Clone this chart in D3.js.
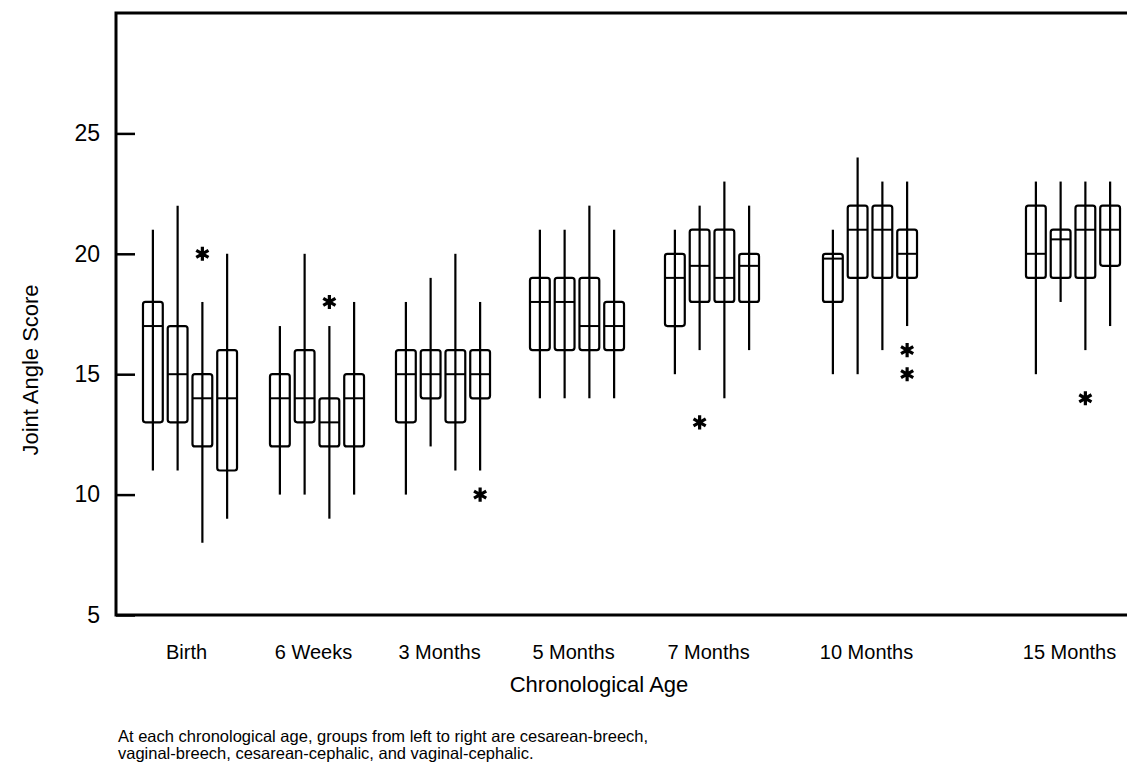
<!DOCTYPE html>
<html>
<head>
<meta charset="utf-8">
<script src="https://cdn.jsdelivr.net/npm/d3@7"></script>
<style>
  body { margin: 0; background: #fff; }
  svg { display: block; font-family: "Liberation Sans", Arial, sans-serif; }
</style>
</head>
<body>
<div id="chart"></div>
<script>
// Chronological ages (x categories) and the four delivery groups drawn at each age
const ages = ["Birth", "6 Weeks", "3 Months", "5 Months", "7 Months", "10 Months", "15 Months"];
const groups = ["cesarean-breech", "vaginal-breech", "cesarean-cephalic", "vaginal-cephalic"];

// Box plot statistics, one row per age, one column per group
const whiskerLow  = [[11, 11, 8, 9], [10, 10, 9, 10], [10, 12, 11, 11], [14, 14, 14, 14], [15, 16, 14, 16], [15, 15, 16, 17], [15, 18, 16, 17]];
const q1          = [[13, 13, 12, 11], [12, 13, 12, 12], [13, 14, 13, 14], [16, 16, 16, 16], [17, 18, 18, 18], [18, 19, 19, 19], [19, 19, 19, 19.5]];
const medians     = [[17, 15, 14, 14], [14, 14, 13, 14], [15, 15, 15, 15], [18, 18, 17, 17], [19, 19.5, 19, 19.5], [19.8, 21, 21, 20], [20, 20.6, 21, 21]];
const q3          = [[18, 17, 15, 16], [15, 16, 14, 15], [16, 16, 16, 16], [19, 19, 19, 18], [20, 21, 21, 20], [20, 22, 22, 21], [22, 21, 22, 22]];
const whiskerHigh = [[21, 22, 18, 20], [17, 20, 17, 18], [18, 19, 20, 18], [21, 21, 22, 21], [21, 22, 23, 22], [21, 24, 23, 23], [23, 23, 23, 23]];

// Outliers (asterisks)
const outlierAge   = ["Birth", "6 Weeks", "3 Months", "7 Months", "10 Months", "10 Months", "15 Months"];
const outlierGroup = ["cesarean-cephalic", "cesarean-cephalic", "vaginal-cephalic", "vaginal-breech", "vaginal-cephalic", "vaginal-cephalic", "cesarean-cephalic"];
const outlierValue = [20, 18, 10, 13, 16, 15, 14];

const yTicks = [5, 10, 15, 20, 25];

const W = 1127, H = 770;
const plot = { left: 116, top: 13, bottom: 615, right: 1127 };

const svg = d3.select("#chart").append("svg")
    .attr("width", W)
    .attr("height", H);

// Scales
const y = d3.scaleLinear().domain([5, 30]).range([plot.bottom, plot.top]);
// ages are not evenly spaced in the original figure
const x = d3.scaleOrdinal().domain(ages).range([190, 317, 443, 577, 712, 870, 1073]);
const inner = d3.scaleBand().domain(groups).range([-49.5, 49.5]).paddingInner(0.2).paddingOuter(0.1);
const bw = inner.bandwidth();

// Flatten the table for the join
const boxes = [];
ages.forEach((a, i) => {
    groups.forEach((g, j) => {
        boxes.push({
            age: a, group: g,
            lo: whiskerLow[i][j], q1: q1[i][j], med: medians[i][j],
            q3: q3[i][j], hi: whiskerHigh[i][j]
        });
    });
});
const cx = d => x(d.age) + inner(d.group) + bw / 2;

// Y axis with inward ticks
const yAxis = svg.append("g")
    .attr("transform", "translate(" + plot.left + ",0)")
    .call(d3.axisLeft(y).tickValues(yTicks).tickSize(-19).tickPadding(16));
yAxis.select(".domain").remove();
yAxis.selectAll(".tick line").attr("stroke", "#000").attr("stroke-width", 2.5);
yAxis.selectAll(".tick text")
    .attr("fill", "#000")
    .style("font-size", "23px");

// X axis labels
const xAxis = svg.append("g")
    .attr("transform", "translate(0," + plot.bottom + ")")
    .call(d3.axisBottom(x).tickSize(0).tickPadding(30));
xAxis.select(".domain").remove();
xAxis.selectAll(".tick text")
    .attr("fill", "#000")
    .attr("dx", -4)
    .style("font-size", "20px");

// Frame (left, top, bottom)
svg.append("path")
    .attr("d", "M" + plot.right + "," + plot.top + "H" + plot.left + "V" + plot.bottom + "H" + plot.right)
    .attr("fill", "none")
    .attr("stroke", "#000")
    .attr("stroke-width", 3);

// Whiskers run through the box
const bx = svg.append("g").attr("stroke", "#000").attr("fill", "none");
bx.selectAll(".whisker")
    .data(boxes)
    .enter().append("line")
    .attr("class", "whisker")
    .attr("x1", cx).attr("x2", cx)
    .attr("y1", d => y(d.lo))
    .attr("y2", d => y(d.hi))
    .attr("stroke-width", 2.2);

bx.selectAll(".box")
    .data(boxes)
    .enter().append("rect")
    .attr("class", "box")
    .attr("x", d => cx(d) - bw / 2)
    .attr("width", bw)
    .attr("y", d => y(d.q3))
    .attr("height", d => y(d.q1) - y(d.q3))
    .attr("rx", 2.5)
    .attr("stroke-width", 2.2);

bx.selectAll(".median")
    .data(boxes)
    .enter().append("line")
    .attr("class", "median")
    .attr("x1", d => cx(d) - bw / 2)
    .attr("x2", d => cx(d) + bw / 2)
    .attr("y1", d => y(d.med))
    .attr("y2", d => y(d.med))
    .attr("stroke-width", 2);

// Outliers as asterisks
const star = d3.symbol().type(d3.symbolAsterisk).size(140);
svg.append("g").selectAll("path")
    .data(outlierValue)
    .enter().append("path")
    .attr("d", star)
    .attr("transform", (v, i) => "translate(" + (x(outlierAge[i]) + inner(outlierGroup[i]) + bw / 2) + "," + y(v) + ")")
    .attr("fill", "none")
    .attr("stroke", "#000")
    .attr("stroke-width", 3.2);

// Axis titles
svg.append("text")
    .attr("x", 599)
    .attr("y", 692)
    .style("text-anchor", "middle")
    .style("font-size", "22px")
    .text("Chronological Age");

svg.append("text")
    .attr("transform", "rotate(-90)")
    .attr("x", -370)
    .attr("y", 38)
    .style("text-anchor", "middle")
    .style("font-size", "22px")
    .text("Joint Angle Score");

// Caption
const caption = ["At each chronological age, groups from left to right are cesarean-breech,",
    "vaginal-breech, cesarean-cephalic, and vaginal-cephalic."];
svg.append("text")
    .attr("x", 118)
    .attr("y", 742)
    .style("font-size", "16.5px")
    .selectAll("tspan")
    .data(caption)
    .enter().append("tspan")
    .attr("x", 118)
    .attr("dy", (d, i) => i ? 17 : 0)
    .text(d => d);
</script>
</body>
</html>
